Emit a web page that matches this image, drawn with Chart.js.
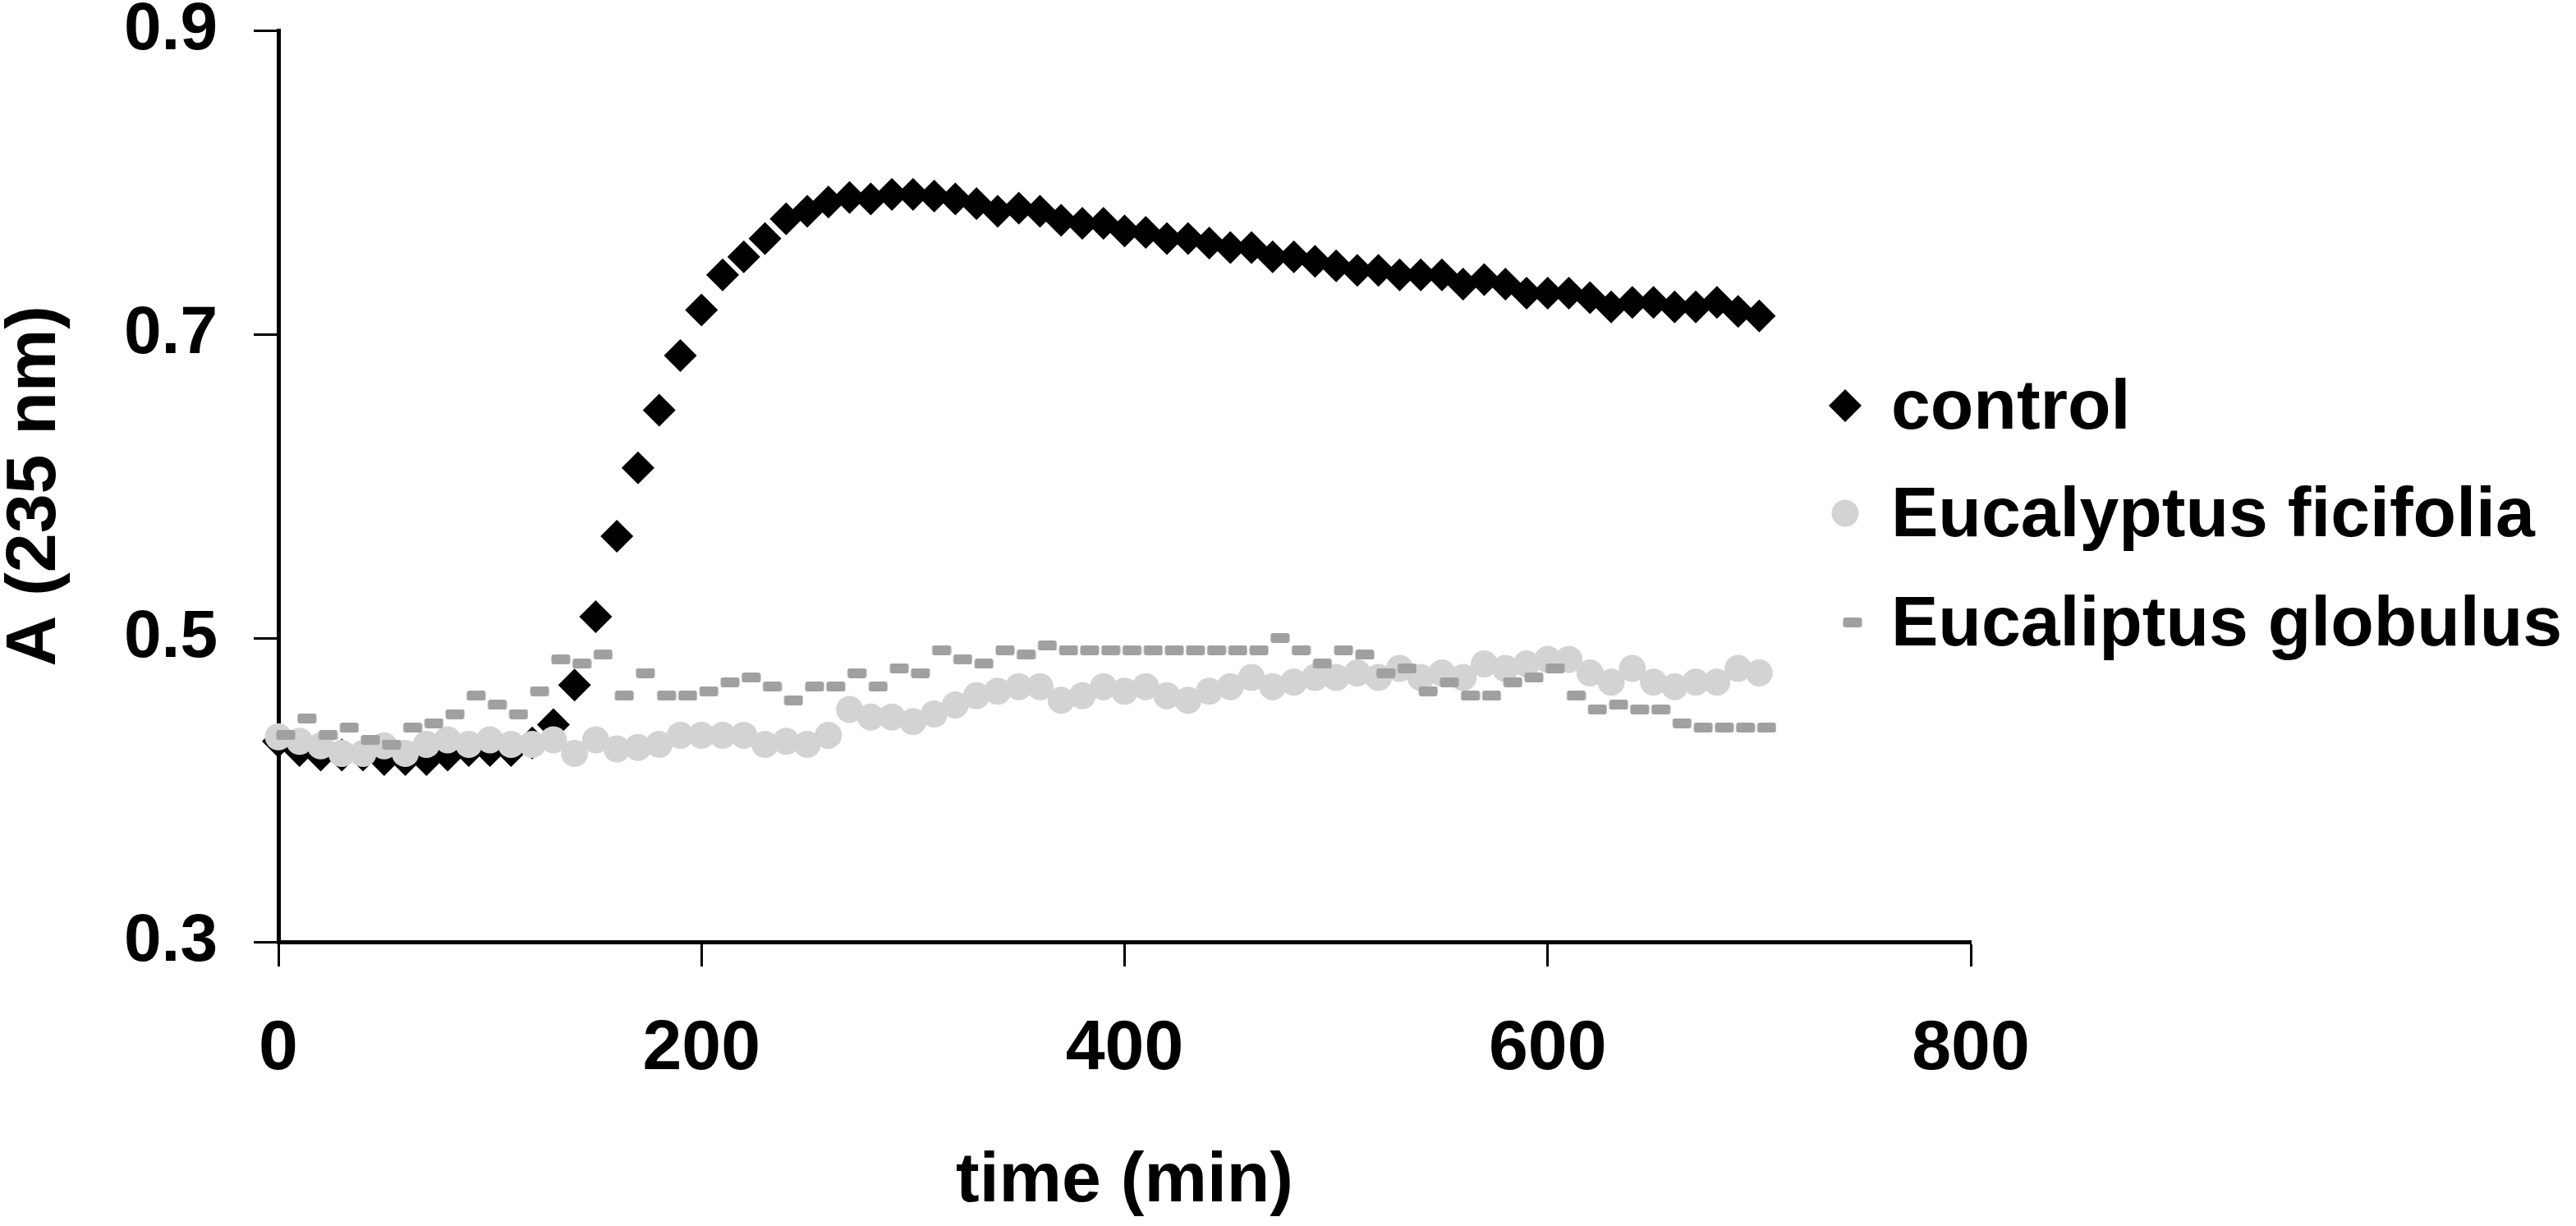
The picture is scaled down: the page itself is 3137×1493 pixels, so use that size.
<!DOCTYPE html>
<html>
<head>
<meta charset="utf-8">
<script src="https://cdn.jsdelivr.net/npm/chart.js@4.4.0/dist/chart.umd.min.js"></script>
<style>
  html, body { margin: 0; padding: 0; background: #fff; }
  #wrap { width: 3137px; height: 1493px; }
</style>
</head>
<body>
<div id="wrap"><canvas id="chart" width="3137" height="1493"></canvas></div>
<script>
// --- data: time (min) vs A (235 nm) ---

const times = [
    0, 10, 20, 30, 40, 50, 60, 70, 80, 90,
    100, 110, 120, 130, 140, 150, 160, 170, 180, 190,
    200, 210, 220, 230, 240, 250, 260, 270, 280, 290,
    300, 310, 320, 330, 340, 350, 360, 370, 380, 390,
    400, 410, 420, 430, 440, 450, 460, 470, 480, 490,
    500, 510, 520, 530, 540, 550, 560, 570, 580, 590,
    600, 610, 620, 630, 640, 650, 660, 670, 680, 690, 700
];

const control = [
    0.432, 0.426, 0.423, 0.423, 0.423, 0.420, 0.420, 0.420, 0.423, 0.426,
    0.426, 0.426, 0.431, 0.443, 0.469, 0.514, 0.567, 0.612, 0.650, 0.686,
    0.716, 0.739, 0.751, 0.763, 0.776, 0.781, 0.787, 0.790, 0.789, 0.792,
    0.792, 0.791, 0.789, 0.786, 0.781, 0.783, 0.781, 0.775, 0.773, 0.773,
    0.768, 0.767, 0.763, 0.763, 0.760, 0.757, 0.757, 0.751, 0.751, 0.748,
    0.745, 0.742, 0.742, 0.739, 0.739, 0.739, 0.733, 0.736, 0.733, 0.727,
    0.727, 0.727, 0.724, 0.718, 0.721, 0.721, 0.718, 0.718, 0.721, 0.715, 0.712
];

const ficifolia = [
    0.435, 0.432, 0.429, 0.424, 0.424, 0.429, 0.424, 0.430, 0.433, 0.430,
    0.433, 0.430, 0.430, 0.433, 0.424, 0.433, 0.427, 0.428, 0.430, 0.436,
    0.436, 0.436, 0.436, 0.430, 0.432, 0.430, 0.436, 0.453, 0.448, 0.448,
    0.445, 0.450, 0.456, 0.462, 0.465, 0.468, 0.468, 0.459, 0.462, 0.468,
    0.465, 0.468, 0.462, 0.459, 0.465, 0.468, 0.474, 0.468, 0.471, 0.474,
    0.474, 0.477, 0.474, 0.480, 0.474, 0.477, 0.474, 0.483, 0.480, 0.483,
    0.486, 0.486, 0.477, 0.471, 0.480, 0.471, 0.468, 0.471, 0.471, 0.480, 0.477
];

const globulus = [
    0.436, 0.447, 0.436, 0.441, 0.433, 0.430, 0.441, 0.444, 0.450, 0.462,
    0.456, 0.450, 0.465, 0.486, 0.483, 0.489, 0.462, 0.477, 0.462, 0.462,
    0.465, 0.471, 0.474, 0.468, 0.459, 0.468, 0.468, 0.477, 0.468, 0.480,
    0.477, 0.492, 0.486, 0.483, 0.492, 0.489, 0.495, 0.492, 0.492, 0.492,
    0.492, 0.492, 0.492, 0.492, 0.492, 0.492, 0.492, 0.500, 0.492, 0.483,
    0.492, 0.489, 0.477, 0.480, 0.465, 0.471, 0.462, 0.462, 0.471, 0.474,
    0.480, 0.462, 0.453, 0.456, 0.453, 0.453, 0.444, 0.441, 0.441, 0.441, 0.441
];

const seriesNames = ['control', 'Eucalyptus ficifolia', 'Eucaliptus globulus'];
const xTicks = [0, 200, 400, 600, 800];
const yTicks = [0.3, 0.5, 0.7, 0.9];


// --- marker for the globulus series: short grey dash, sitting a bit right of the point ---

function makeDash() {
    const c = document.createElement('canvas');
    c.width = 42;
    c.height = 12;
    const g = c.getContext('2d');
    g.fillStyle = '#a0a0a0';
    g.beginPath();
    g.roundRect(18.5, 0, 23, 12, 3);
    g.fill();
    return c;
}

const toPoints = (ys) => times.map((t, i) => ({ x: t, y: ys[i] }));
const FONT = "'Liberation Sans', Arial, sans-serif";


// --- legend drawn at the right, over the empty part of the plot ---

const sideLegend = {
    id: 'sideLegend',
    afterDraw(chart) {
        const ctx = chart.ctx;
        const rows = [494, 625, 758];
        ctx.save();
        chart.data.datasets.forEach((ds, i) => {
            ctx.fillStyle = ds.backgroundColor;
            Chart.helpers.drawPoint(ctx, {
                pointStyle: ds.pointStyle,
                radius: ds.pointRadius,
                rotation: 0,
                borderWidth: 0
            }, 2247, rows[i]);
            ctx.fillStyle = '#000';
            ctx.font = `bold 86px ${FONT}`;
            ctx.textAlign = 'left';
            ctx.textBaseline = 'alphabetic';
            ctx.fillText(ds.label, 2303, rows[i] + 28);
        });
        ctx.restore();
    }
};


const ctx = document.getElementById('chart').getContext('2d');
new Chart(ctx, {
    type: 'scatter',
    data: {
        datasets: [
            {
                label: seriesNames[0],
                data: toPoints(control),
                pointStyle: 'rectRot',
                pointRadius: 20,
                backgroundColor: '#000000',
                borderWidth: 0,
                order: 3,
                clip: false
            },
            {
                label: seriesNames[1],
                data: toPoints(ficifolia),
                pointStyle: 'circle',
                pointRadius: 16.5,
                backgroundColor: 'rgb(211, 211, 211)',
                borderWidth: 0,
                order: 2,
                clip: false
            },
            {
                label: seriesNames[2],
                data: toPoints(globulus),
                pointStyle: makeDash(),
                pointRadius: 12,
                backgroundColor: '#a0a0a0',
                borderWidth: 0,
                order: 1,
                clip: false
            }
        ]
    },
    options: {
        responsive: false,
        animation: false,
        devicePixelRatio: 1,
        layout: {
            autoPadding: false,
            padding: { left: 0, top: 37, right: 737, bottom: 0 }
        },
        plugins: {
            legend: { display: false },
            tooltip: { enabled: false }
        },
        scales: {
            x: {
                type: 'linear',
                min: 0,
                max: 800,
                afterBuildTicks: (s) => { s.ticks = xTicks.map(v => ({ value: v })); },
                afterFit: (s) => {
                    s.height = 346;
                    s.paddingLeft = 0;
                    s.paddingRight = 0;
                },
                border: { display: true, color: '#000', width: 5 },
                grid: {
                    drawOnChartArea: false,
                    drawTicks: true,
                    tickLength: 30,
                    tickWidth: 3,
                    tickColor: '#000'
                },
                ticks: {
                    padding: 58,
                    maxRotation: 0,
                    color: '#000',
                    font: { family: FONT, size: 86, weight: 'bold', lineHeight: 1 }
                },
                title: {
                    display: true,
                    text: 'time (min)',
                    color: '#000',
                    font: { family: FONT, size: 86, weight: 'bold', lineHeight: 1 },
                    padding: { top: 0, bottom: 11 }
                }
            },
            y: {
                type: 'linear',
                min: 0.3,
                max: 0.9,
                afterBuildTicks: (s) => { s.ticks = yTicks.map(v => ({ value: v })); },
                afterFit: (s) => {
                    s.width = 339;
                    s.paddingTop = 0;
                    s.paddingBottom = 0;
                },
                border: { display: true, color: '#000', width: 5 },
                grid: {
                    drawOnChartArea: false,
                    drawTicks: true,
                    tickLength: 30,
                    tickWidth: 3,
                    tickColor: '#000'
                },
                ticks: {
                    padding: 44,
                    color: '#000',
                    callback: (v) => v.toFixed(1),
                    font: { family: FONT, size: 82, weight: 'bold', lineHeight: 1 }
                },
                title: {
                    display: true,
                    text: 'A (235 nm)',
                    color: '#000',
                    font: { family: FONT, size: 86, weight: 'bold', lineHeight: 1 },
                    padding: { top: 0, bottom: 0 }
                }
            }
        }
    },
    plugins: [sideLegend]
});
</script>
</body>
</html>
